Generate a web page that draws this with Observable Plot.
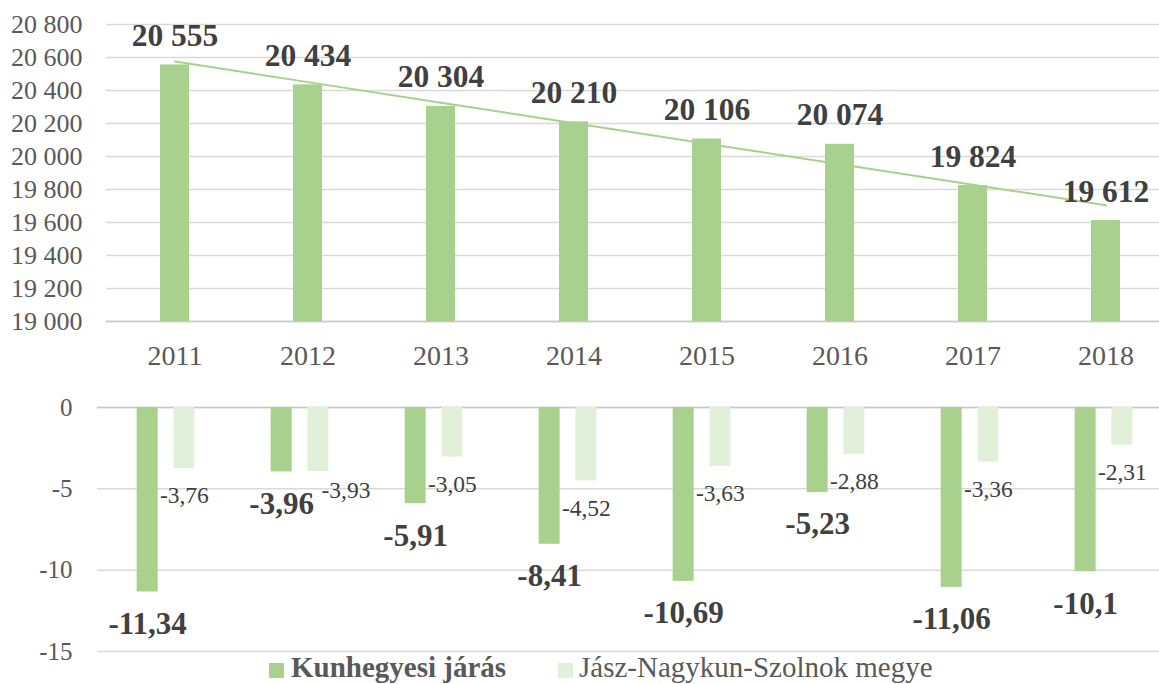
<!DOCTYPE html>
<html>
<head>
<meta charset="utf-8">
<script src="https://cdn.jsdelivr.net/npm/d3@7"></script>
<script src="https://cdn.jsdelivr.net/npm/@observablehq/plot@0.6"></script>
<style>
  html, body { margin: 0; padding: 0; background: #fff; }
  #chart { width: 1159px; height: 684px; overflow: hidden; position: relative; font-family: "Liberation Serif", "Times New Roman", serif; }
  #chart svg { display: block; }
  #legend { position: relative; height: 28px; width: 1159px; color: #595959; font-size: 29px; }
  #legend .sw { position: absolute; width: 15px; height: 15px; top: 7px; }
  #legend .lb { position: absolute; top: -3px; line-height: 28px; white-space: nowrap; }
</style>
</head>
<body>
<div id="chart"></div>
<script>
// ---- data ----
const years = ["2011", "2012", "2013", "2014", "2015", "2016", "2017", "2018"];
const population = [20555, 20434, 20304, 20210, 20106, 20074, 19824, 19612];
const changeDistrict = [-11.34, -3.96, -5.91, -8.41, -10.69, -5.23, -11.06, -10.1];
const changeCounty = [-3.76, -3.93, -3.05, -4.52, -3.63, -2.88, -3.36, -2.31];
const yTicksTop = [19000, 19200, 19400, 19600, 19800, 20000, 20200, 20400, 20600, 20800];
const yTicksBottom = [0, -5, -10, -15];
const seriesNames = ["Kunhegyesi járás", "Jász-Nagykun-Szolnok megye"];
const seriesColors = ["#a9d18e", "#e2f0d9"];
// the county label of this year is moved aside in the original to avoid the district label
const shiftedCountyLabelYear = "2012";

// ---- helpers ----
const fontFamily = '"Liberation Serif", "Times New Roman", serif';
const fmtThousands = v => d3.format(",")(v).replace(/,/g, "\u00a0");
const fmtDecimal = v => String(v).replace(".", ",");

const topData = years.map((year, i) => ({year, value: population[i]}));
const district = years.map((year, i) => ({year, value: changeDistrict[i]}));
const county = years.map((year, i) => ({year, value: changeCounty[i]}));

// linear trend (least squares over year index)
const idx = years.map((_, i) => i);
const mx = d3.mean(idx), my = d3.mean(population);
const slope = d3.sum(idx, i => (i - mx) * (population[i] - my)) / d3.sum(idx, i => (i - mx) ** 2);
const intercept = my - slope * mx;
const trend = years.map((year, i) => ({year, value: intercept + slope * i}));

const topPlot = Plot.plot({
  width: 1159, height: 380,
  marginLeft: 106, marginRight: 0, marginTop: 24, marginBottom: 59,
  style: {fontFamily, color: "#595959", background: "transparent", overflow: "visible"},
  x: {domain: years, range: [106.25, 1174.25], paddingInner: 0.779, paddingOuter: 0.3895, label: null},
  y: {domain: [19000, 20800], label: null},
  marks: [
    Plot.gridY(yTicksTop, {stroke: "#d9d9d9", strokeOpacity: 1, strokeWidth: 1.5}),
    Plot.ruleY([19000], {stroke: "#c8c8c8", strokeWidth: 1.5}),
    Plot.barY(topData, {x: "year", y1: 19000, y2: "value", fill: seriesColors[0]}),
    Plot.line(trend, {x: "year", y: "value", stroke: seriesColors[0], strokeWidth: 2}),
    Plot.text(topData, {x: "year", y: "value", text: d => fmtThousands(d.value), dy: -29,
      fontSize: 31.5, fontWeight: "bold", fill: "#404040"}),
    Plot.axisX({tickSize: 0, tickPadding: 24, fontSize: 28, fill: "#595959"}),
    Plot.axisY(yTicksTop, {tickSize: 0, tickPadding: 24, fontSize: 26, fill: "#595959", tickFormat: fmtThousands})
  ]
});

const bottomPlot = Plot.plot({
  width: 1159, height: 276,
  marginLeft: 97, marginRight: 0, marginTop: 27, marginBottom: 5,
  style: {fontFamily, color: "#595959", background: "transparent", overflow: "visible"},
  x: {domain: years, range: [96.5, 1173.8], paddingInner: 0.84, paddingOuter: 0.42, axis: null},
  y: {domain: [-15, 0], label: null},
  marks: [
    Plot.gridY(yTicksBottom, {stroke: "#d9d9d9", strokeOpacity: 1, strokeWidth: 1.5}),
    Plot.ruleY([0], {stroke: "#c8c8c8", strokeWidth: 1.5}),
    Plot.barY(district, {x: "year", y: "value", fill: seriesColors[0], dx: -18.35}),
    Plot.barY(county, {x: "year", y: "value", fill: seriesColors[1], dx: 18.35}),
    Plot.text(district, {x: "year", y: "value", text: d => fmtDecimal(d.value), dx: -18.35, dy: 32,
      fontSize: 31, fontWeight: "bold", fill: "#404040"}),
    Plot.text(county, {filter: d => d.year !== shiftedCountyLabelYear,
      x: "year", y: "value", text: d => fmtDecimal(d.value), dx: 18.35, dy: 27,
      fontSize: 23.5, fill: "#404040"}),
    Plot.text(county, {filter: d => d.year === shiftedCountyLabelYear,
      x: "year", y: "value", text: d => fmtDecimal(d.value), dx: 46, dy: 19,
      fontSize: 23.5, fill: "#404040"}),
    Plot.axisY(yTicksBottom, {tickSize: 0, tickPadding: 25, fontSize: 25, fill: "#595959", tickFormat: d => String(d)})
  ]
});

const chart = document.getElementById("chart");
chart.appendChild(topPlot);
chart.appendChild(bottomPlot);

// legend
const legend = document.createElement("div");
legend.id = "legend";
const legendLayout = [{sw: 269, lb: 291, bold: true}, {sw: 558, lb: 579, bold: false}];
seriesNames.forEach((name, i) => {
  const sw = document.createElement("div");
  sw.className = "sw";
  sw.style.left = legendLayout[i].sw + "px";
  sw.style.background = seriesColors[i];
  const lb = document.createElement("div");
  lb.className = "lb";
  lb.style.left = legendLayout[i].lb + "px";
  lb.style.fontWeight = legendLayout[i].bold ? "bold" : "normal";
  lb.textContent = name;
  legend.appendChild(sw);
  legend.appendChild(lb);
});
chart.appendChild(legend);
</script>
</body>
</html>
